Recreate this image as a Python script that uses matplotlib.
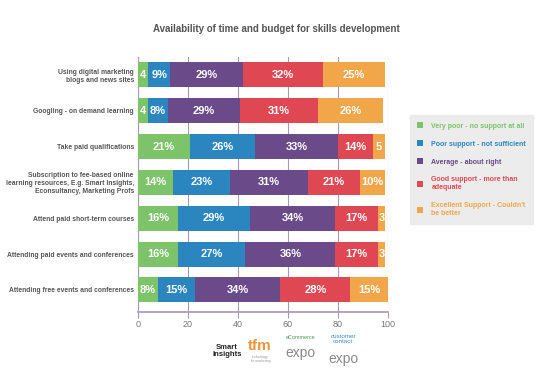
import numpy as np
import matplotlib.pyplot as plt
from matplotlib.patches import Patch

plt.rcParams['font.family'] = ['Liberation Sans', 'DejaVu Sans']

categories = [
    "Using digital marketing\nblogs and news sites",
    "Googling - on demand learning",
    "Take paid qualifications",
    "Subscription to fee-based online\nlearning resources, E.g. Smart Insights,\nEconsultancy, Marketing Profs",
    "Attend paid short-term courses",
    "Attending paid events and conferences",
    "Attending free events and conferences",
]
series = [
    "Very poor - no support at all",
    "Poor support - not sufficient",
    "Average - about right",
    "Good support - more than\nadequate",
    "Excellent Support - Couldn't\nbe better",
]
very_poor = [4, 4, 21, 14, 16, 16, 8]
poor = [9, 8, 26, 23, 29, 27, 15]
average = [29, 29, 33, 31, 34, 36, 34]
good = [32, 31, 14, 21, 17, 17, 28]
excellent = [25, 26, 5, 10, 3, 3, 15]
colors = ["#7cc36a", "#2b86bf", "#6a4a89", "#df4852", "#f2a64a"]

values = [very_poor, poor, average, good, excellent]

fig = plt.figure(figsize=(5.43, 3.72), dpi=100)
ax = fig.add_axes([0.254, 0.161, 0.460, 0.686])

y = np.arange(len(categories))
left = np.zeros(len(categories))
for vals, col in zip(values, colors):
    vals = np.array(vals, dtype=float)
    ax.barh(y, vals, left=left, height=0.7, color=col, linewidth=0, zorder=3)
    for yi, (l, v) in enumerate(zip(left, vals)):
        txt = f"{int(v)}%" if v >= 8 else f"{int(v)}"
        ax.text(l + v / 2, yi, txt, ha='center', va='center', color='white',
                fontsize=8, fontweight='bold', zorder=4)
    left += vals

ax.set_xlim(0, 100)
ax.set_ylim(6.62, -0.5)
ax.set_xticks([0, 20, 40, 60, 80, 100])
ax.set_yticks(y)
ax.set_yticklabels(categories, fontsize=4.9, fontweight='bold', color='#555555', linespacing=1.2)
ax.tick_params(axis='y', length=0, pad=3)
ax.tick_params(axis='x', length=4, direction='out', color='#a897b8', labelcolor='#777777',
               labelsize=6.5, pad=2)
ax.grid(axis='x', color='#a897b8', linewidth=0.8, zorder=0)
for s in ['top', 'right']:
    ax.spines[s].set_visible(False)
ax.spines['left'].set_color('#a897b8')
ax.spines['bottom'].set_color('#a897b8')
ax.spines['bottom'].set_linewidth(1.2)

handles = [Patch(facecolor=c, edgecolor='none') for c in colors]
leg = fig.legend(handles, series, loc='upper left', bbox_to_anchor=(0.755, 0.69),
                 frameon=True, fontsize=5, handlelength=0.9, handleheight=0.9,
                 labelspacing=1.55, borderpad=1.0, handletextpad=1.2, fancybox=False,
                 borderaxespad=0)
leg.get_frame().set_facecolor('#e8e8e8')
leg.get_frame().set_edgecolor('#e8e8e8')
for t, c in zip(leg.get_texts(), colors):
    t.set_color(c)
    t.set_fontweight('bold')

fig.text(0.509, 0.922, "Availability of time and budget for skills development",
         ha='center', va='center', fontsize=7.0, fontweight='bold', color='#555555')

# sponsor marks along the bottom
fig.text(0.418, 0.056, "Smart\nInsights", ha='center', va='center', fontsize=5.5,
         fontweight='bold', color='#222222', linespacing=0.9)
fig.text(0.479, 0.070, "tfm", ha='center', va='center', fontsize=11, fontweight='bold', color='#f0953a')
fig.text(0.479, 0.035, "technology\nfor marketing", ha='center', va='center', fontsize=2.5,
         color='#999999', linespacing=0.9)
fig.text(0.553, 0.052, "expo", ha='center', va='center', fontsize=10, color='#8a8a8a')
fig.text(0.553, 0.092, "eCommerce", ha='center', va='center', fontsize=4, color='#4a9a5a')
fig.text(0.632, 0.035, "expo", ha='center', va='center', fontsize=10, color='#8a8a8a')
fig.text(0.632, 0.088, "customer\ncontact", ha='center', va='center', fontsize=4.5,
         color='#3a8ac0', linespacing=0.9)

fig.savefig("out.png", dpi=100)
